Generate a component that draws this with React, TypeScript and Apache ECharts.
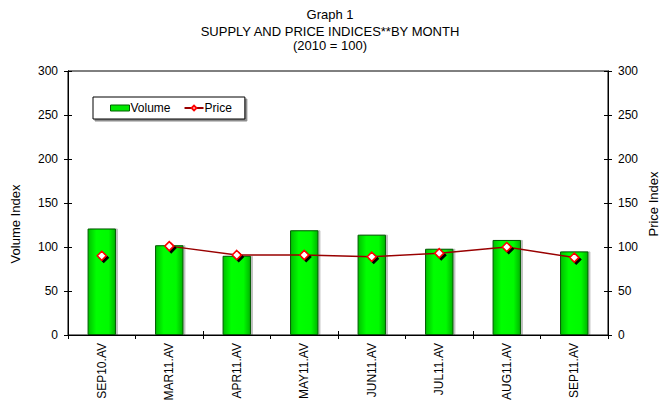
import React, { useEffect, useRef } from "react";
import * as echarts from "echarts";

const categories = ["SEP10.AV", "MAR11.AV", "APR11.AV", "MAY11.AV", "JUN11.AV", "JUL11.AV", "AUG11.AV", "SEP11.AV"];
const volume = [121, 102, 90, 119, 114, 98, 108, 95];
const price = [90, 101, 91, 91, 89, 93, 100, 88];
const titleLines = ["Graph 1", "SUPPLY AND PRICE INDICES**BY MONTH", "(2010 = 100)"];

const FONT = "Liberation Sans, Arial, sans-serif";

export default function App() {
  const ref = useRef<HTMLDivElement>(null);
  useEffect(() => {
    const chart = echarts.init(ref.current!, null, { renderer: "svg" });
    const priceLine = price.map((v, i) => (i === 0 ? null : v));
    const priceIsolated = price.map((v, i) => (i === 0 ? v : null));
    const markerStyle = {
      color: "#ffffff",
      borderColor: "#ff0000",
      borderWidth: 1.5,
      shadowColor: "#000000",
      shadowBlur: 0,
      shadowOffsetX: 2,
      shadowOffsetY: 2,
    };
    const valueAxisBase = {
      type: "value",
      min: 0,
      max: 300,
      interval: 50,
      splitLine: { show: false },
    };
    const titleY = [14, 31, 45];
    chart.setOption({
      animation: false,
      backgroundColor: "#ffffff",
      textStyle: { fontFamily: FONT },
      title: titleLines.map((t, i) => ({
        text: t,
        left: 330,
        top: titleY[i] - 8,
        textAlign: "center",
        padding: 0,
        textStyle: { fontFamily: FONT, fontSize: 13, fontWeight: "normal", color: "#000", lineHeight: 16 },
      })),
      graphic: [
        {
          type: "text",
          x: 15,
          y: 224,
          rotation: Math.PI / 2,
          style: { text: "Volume Index", fontFamily: FONT, fontSize: 13, fill: "#000", align: "center", verticalAlign: "middle" },
        },
        {
          type: "text",
          x: 653,
          y: 204,
          rotation: Math.PI / 2,
          style: { text: "Price Index", fontFamily: FONT, fontSize: 13, fill: "#000", align: "center", verticalAlign: "middle" },
        },
      ],
      legend: {
        left: 93,
        top: 97,
        orient: "horizontal",
        itemGap: 13,
        padding: [5, 13, 5, 17],
        borderColor: "#000",
        borderWidth: 1,
        backgroundColor: "#fff",
        shadowColor: "rgba(0,0,0,0.45)",
        shadowOffsetX: 2,
        shadowOffsetY: 2,
        shadowBlur: 0,
        itemWidth: 19,
        itemHeight: 6,
        textStyle: { fontFamily: FONT, fontSize: 12, color: "#000", padding: [0, 0, 0, -4] },
        data: [
          { name: "Volume", icon: "rect", itemStyle: { color: "#00e800", borderColor: "#006000", borderWidth: 1 } },
          { name: "Price" },
        ],
      },
      grid: { left: 68, right: 56, top: 71, bottom: 74, show: true, borderColor: "#000", borderWidth: 1, backgroundColor: "transparent" },
      xAxis: [
        {
          type: "category",
          data: categories,
          boundaryGap: true,
          axisLine: { lineStyle: { color: "#000", width: 1 } },
          axisTick: { show: true, length: 4, lineStyle: { color: "#000" } },
          axisLabel: { rotate: 90, fontSize: 12, color: "#000", fontFamily: FONT, margin: 8 },
        },
        {
          type: "category",
          data: categories,
          position: "bottom",
          offset: 0,
          boundaryGap: true,
          axisLine: { show: true, lineStyle: { color: "#000", width: 1 } },
          axisTick: { show: true, inside: true, length: 4, lineStyle: { color: "#000" } },
          axisLabel: { show: false },
        },
      ],
      yAxis: [
        {
          ...valueAxisBase,
          position: "left",
          axisLine: { show: true, lineStyle: { color: "#000" } },
          axisTick: { show: true, length: 4, lineStyle: { color: "#000" } },
          axisLabel: { fontSize: 12, color: "#000", fontFamily: FONT, margin: 10 },
        },
        {
          ...valueAxisBase,
          position: "right",
          axisLine: { show: true, lineStyle: { color: "#000" } },
          axisTick: { show: true, length: 4, lineStyle: { color: "#000" } },
          axisLabel: { fontSize: 12, color: "#000", fontFamily: FONT, margin: 10 },
        },
        {
          ...valueAxisBase,
          position: "left",
          offset: 0,
          axisLine: { show: true, lineStyle: { color: "#000" } },
          axisTick: { show: true, inside: true, length: 4, lineStyle: { color: "#000" } },
          axisLabel: { show: false },
        },
        {
          ...valueAxisBase,
          position: "right",
          offset: 0,
          axisLine: { show: true, lineStyle: { color: "#000" } },
          axisTick: { show: true, inside: true, length: 4, lineStyle: { color: "#000" } },
          axisLabel: { show: false },
        },
      ],
      series: [
        {
          name: "Volume",
          type: "bar",
          data: volume,
          barWidth: "42%",
          itemStyle: {
            color: new echarts.graphic.LinearGradient(0, 0, 1, 0, [
              { offset: 0, color: "#00c000" },
              { offset: 0.3, color: "#00ff00" },
              { offset: 0.75, color: "#00fa00" },
              { offset: 1, color: "#00b400" },
            ]),
            borderColor: "#005a00",
            borderWidth: 1,
            shadowColor: "rgba(0,0,0,0.25)",
            shadowOffsetX: 2,
            shadowOffsetY: 0,
            shadowBlur: 0,
          },
        },
        {
          name: "Price",
          type: "line",
          yAxisIndex: 1,
          data: priceLine,
          symbol: "diamond",
          symbolSize: 9,
          showAllSymbol: true,
          lineStyle: { color: "#990000", width: 1.5 },
          itemStyle: markerStyle,
          z: 5,
        },
        {
          name: "PriceIsolated",
          type: "line",
          yAxisIndex: 1,
          data: priceIsolated,
          symbol: "diamond",
          symbolSize: 9,
          showAllSymbol: true,
          lineStyle: { width: 0 },
          itemStyle: markerStyle,
          z: 5,
        },
      ],
    });
    return () => chart.dispose();
  }, []);
  return <div ref={ref} style={{ width: 664, height: 409, position: "absolute", left: 0, top: 0 }} />;
}
